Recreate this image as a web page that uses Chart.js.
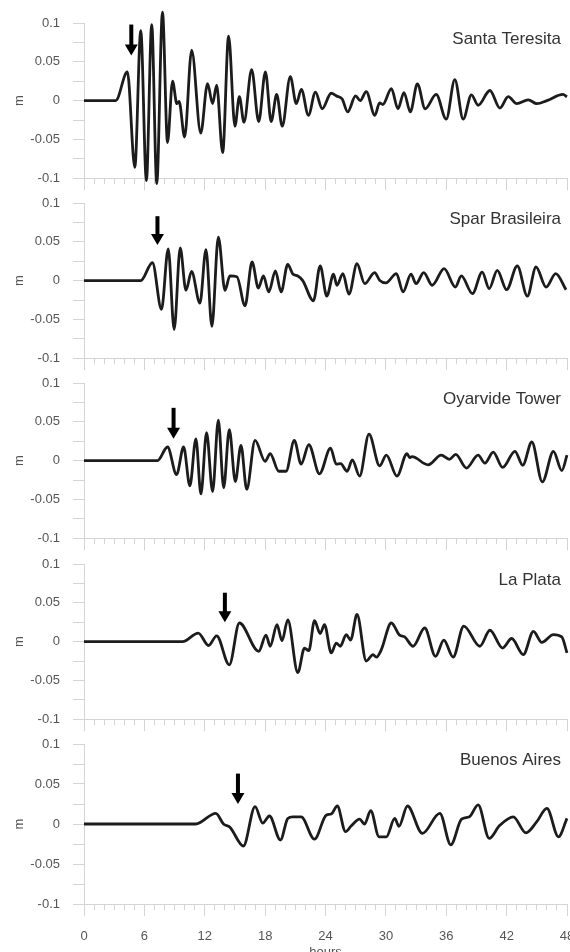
<!DOCTYPE html>
<html>
<head>
<meta charset="utf-8">
<script src="https://cdn.jsdelivr.net/npm/chart.js@4.4.0/dist/chart.umd.min.js"></script>
<style>
  html, body { margin: 0; padding: 0; background: #fff; overflow: hidden; }
  #wrap { position: relative; width: 570px; height: 952px; overflow: hidden; }
  #wrap canvas { position: absolute; left: 0; }
</style>
</head>
<body>
<div id="wrap"></div>
<script>
// station names, top to bottom
const stations = ["Santa Teresita", "Spar Brasileira", "Oyarvide Tower", "La Plata", "Buenos Aires"];

// sea level (m), hours since the event
const santaTeresitaHours = [0, 3.15, 4.31, 5.05, 5.64, 6.2, 6.73, 7.23, 7.8, 8.3, 8.8, 9.23, 9.45, 10.0, 10.7, 11.6, 12.28, 12.78, 13.18, 13.78, 14.37, 15.0, 15.44, 15.9, 16.66, 17.36, 18.03, 18.6, 19.15, 19.7, 20.5, 21.1, 21.6, 22.3, 23.0, 23.67, 24.56, 25.1, 25.66, 26.2, 26.99, 27.45, 28.05, 28.9, 29.38, 29.7, 30.55, 31.2, 31.8, 32.43, 33.13, 33.9, 35.0, 36.0, 36.85, 37.68, 38.5, 39.17, 40.34, 41.33, 42.16, 43.0, 44.15, 45.0, 46.0, 47.6, 48];
const santaTeresitaLevel = [0, 0, 0.037, -0.086, 0.09, -0.103, 0.098, -0.107, 0.114, -0.054, 0.025, -0.004, -0.001, -0.047, 0.065, -0.042, 0.022, -0.004, 0.02, -0.067, 0.083, -0.033, 0.005, -0.028, 0.04, -0.027, 0.037, -0.027, 0.008, -0.033, 0.031, -0.004, 0.0145, -0.019, 0.011, -0.0105, 0.0095, 0.006, 0.002, -0.0146, 0.006, 0, 0.0116, -0.019, -0.003, -0.005, 0.0154, -0.0105, 0.0104, -0.0146, 0.0216, -0.0105, 0.008, -0.024, 0.027, -0.024, 0.0075, -0.006, 0.013, -0.0096, 0.005, -0.004, 0.001, -0.004, 0, 0.008, 0.005];

const sparBrasileiraHours = [0, 5.64, 6.8, 7.7, 8.37, 8.96, 9.56, 10.13, 10.69, 11.52, 12.12, 12.71, 13.35, 14.01, 14.5, 15.2, 16.0, 16.7, 17.33, 17.83, 18.36, 19.02, 19.59, 20.25, 20.75, 21.25, 21.74, 22.8, 23.47, 24.13, 24.8, 25.13, 25.73, 26.33, 27.13, 27.9, 28.88, 29.4, 30.0, 31.05, 31.7, 32.5, 33.0, 33.76, 34.6, 35.79, 36.9, 37.5, 38.6, 39.57, 40.27, 41.07, 42.0, 43.06, 44.06, 44.92, 45.92, 46.88, 47.9];
const sparBrasileiraLevel = [0, 0, 0.023, -0.037, 0.041, -0.063, 0.042, -0.0125, 0.0117, -0.029, 0.04, -0.059, 0.056, -0.0125, 0.006, 0.005, -0.0325, 0.024, -0.0096, 0.006, -0.0146, 0.0125, -0.0146, 0.021, 0.0085, 0.006, 0, -0.026, 0.019, -0.02, 0.0083, -0.006, 0.009, -0.0175, 0.0217, -0.004, 0.0104, 0, -0.003, 0.009, -0.0146, 0.0083, -0.004, 0.0104, -0.006, 0.0154, -0.0083, 0.006, -0.0167, 0.011, -0.0104, 0.0133, -0.0117, 0.019, -0.02, 0.0175, -0.0083, 0.009, -0.0117];

const oyarvideHours = [0, 7.3, 8.3, 9.2, 9.9, 10.52, 11.12, 11.62, 12.18, 12.78, 13.35, 13.88, 14.44, 15.04, 15.6, 16.17, 17.0, 18.0, 18.5, 19.35, 20.08, 20.9, 21.58, 22.34, 23.4, 24.5, 25.07, 25.5, 26.15, 26.66, 27.39, 28.32, 29.38, 30.05, 31.1, 32.1, 32.35, 32.6, 34.2, 35.5, 36.3, 36.95, 38.0, 39.17, 39.84, 40.67, 41.6, 42.83, 43.6, 44.5, 45.55, 46.65, 47.48, 48];
const oyarvideLevel = [0, 0, 0.0175, -0.018, 0.0175, -0.0325, 0.028, -0.043, 0.036, -0.04, 0.052, -0.035, 0.04, -0.027, 0.0196, -0.037, 0.026, -0.001, 0.009, -0.0137, -0.0137, 0.026, -0.0046, 0.0204, -0.017, 0.016, -0.0046, -0.004, -0.0137, 0.001, -0.02, 0.034, -0.0067, 0.007, -0.02, 0.009, 0.004, 0.005, -0.0054, 0.007, 0.0017, 0.008, -0.0096, 0.007, -0.0033, 0.011, -0.0088, 0.012, -0.006, 0.024, -0.0275, 0.012, -0.013, 0.007];

const laPlataHours = [0, 9.8, 11.35, 12.38, 13.18, 14.44, 15.44, 17.36, 18.09, 18.5, 19.18, 19.68, 20.25, 21.25, 21.91, 22.34, 22.91, 23.47, 23.9, 24.57, 25.07, 25.47, 26.06, 26.5, 27.13, 28.05, 28.72, 29.05, 29.55, 30.54, 31.37, 31.87, 32.7, 33.86, 34.93, 35.76, 36.68, 37.74, 39.34, 40.34, 41.6, 42.5, 43.66, 44.66, 45.49, 46.65, 47.48, 48];
const laPlataLevel = [0, 0, 0.011, -0.005, 0.0075, -0.03, 0.024, -0.0125, 0.0083, -0.006, 0.0217, 0.001, 0.028, -0.04, -0.0083, -0.0117, 0.027, 0.0104, 0.0217, -0.0146, -0.002, -0.006, 0.009, 0.002, 0.035, -0.025, -0.0167, -0.02, -0.0104, 0.024, 0.0083, 0.006, -0.006, 0.0175, -0.019, 0.002, -0.02, 0.02, -0.006, 0.0146, -0.0083, 0.004, -0.0167, 0.0133, -0.001, 0.009, 0.006, -0.0146];

const buenosAiresHours = [0, 11.1, 13.1, 13.86, 14.5, 15.84, 17.0, 17.76, 18.43, 19.52, 20.25, 20.75, 21.58, 22.9, 24.07, 24.57, 25.17, 25.99, 26.55, 27.39, 27.88, 28.49, 29.32, 30.05, 30.88, 31.3, 32.14, 33.63, 35.36, 36.45, 37.52, 38.3, 39.17, 40.27, 41.3, 42.66, 43.92, 45.0, 46.0, 47.15, 48];
const buenosAiresLevel = [0, 0, 0.0133, 0, -0.004, -0.0275, 0.0217, 0.001, 0.01, -0.02, 0.007, 0.009, 0.009, -0.019, 0.011, 0.0125, 0.0225, -0.0096, -0.0025, 0.006, 0, 0.0167, -0.016, -0.016, 0.007, -0.003, 0.0225, -0.0117, 0.0133, -0.026, 0.006, 0.009, 0.024, -0.018, -0.002, 0.009, -0.011, 0.003, 0.0196, -0.016, 0.007];

// arrival arrows (hour, arrow top and tip in m)
const arrowHours = [4.7, 7.3, 8.9, 14.0, 15.3];
const arrowTop = [0.098, 0.083, 0.068, 0.063, 0.063];
const arrowTip = [0.058, 0.046, 0.028, 0.025, 0.025];

const seriesHours = [santaTeresitaHours, sparBrasileiraHours, oyarvideHours, laPlataHours, buenosAiresHours];
const seriesLevel = [santaTeresitaLevel, sparBrasileiraLevel, oyarvideLevel, laPlataLevel, buenosAiresLevel];

Chart.defaults.font.family = '"Liberation Sans", Arial, sans-serif';
Chart.defaults.color = "#555";

const axisGray = "#d4d4d4";

// draws the arrival arrow and the station name
const panelDecor = {
  id: "panelDecor",
  afterDatasetsDraw(chart, args, opts) {
    const { ctx, chartArea, scales } = chart;
    const x = scales.x.getPixelForValue(opts.hour);
    const y1 = scales.y.getPixelForValue(opts.top);
    const y2 = scales.y.getPixelForValue(opts.tip);
    ctx.save();
    ctx.strokeStyle = "#000";
    ctx.fillStyle = "#000";
    ctx.lineWidth = 4;
    ctx.beginPath();
    ctx.moveTo(x, y1);
    ctx.lineTo(x, y2 - 9);
    ctx.stroke();
    ctx.beginPath();
    ctx.moveTo(x - 6.5, y2 - 11);
    ctx.lineTo(x + 6.5, y2 - 11);
    ctx.lineTo(x, y2);
    ctx.closePath();
    ctx.fill();

    ctx.font = '17px "Liberation Sans", Arial, sans-serif';
    ctx.fillStyle = "#333";
    ctx.textAlign = "right";
    ctx.textBaseline = "middle";
    ctx.fillText(opts.name, chartArea.right - 6, chartArea.top + 16);
    ctx.restore();
  },
};

function makePanel(i) {
  const last = i === stations.length - 1;
  const plotTop = Math.round(23 + 180.2 * i);
  const padTop = 22;
  const bottomSpace = last ? 56 : 16;

  const canvas = document.createElement("canvas");
  canvas.width = 570;
  canvas.height = padTop + 160 + bottomSpace;
  canvas.style.top = plotTop - padTop + "px";
  document.getElementById("wrap").appendChild(canvas);

  const points = seriesHours[i].map((h, k) => ({ x: h, y: seriesLevel[i][k] }));

  const config = {
    type: "line",
    data: {
      datasets: [
        {
          label: stations[i],
          data: points,
          borderColor: "#1c1c1c",
          borderWidth: 2.8,
          pointRadius: 0,
          fill: false,
          cubicInterpolationMode: "monotone",
          clip: false,
        },
      ],
    },
    options: {
      responsive: false,
      animation: false,
      events: [],
      layout: { padding: { left: 0, right: 3, top: padTop, bottom: 0 } },
      plugins: {
        legend: { display: false },
        tooltip: { enabled: false },
        panelDecor: {
          name: stations[i],
          hour: arrowHours[i],
          top: arrowTop[i],
          tip: arrowTip[i],
        },
      },
      scales: {
        x: {
          type: "linear",
          position: "bottom",
          weight: 1,
          min: 0,
          max: 48,
          ticks: {
            stepSize: 6,
            display: last,
            maxRotation: 0,
            padding: 13,
            font: { size: 13 },
            color: "#555",
          },
          grid: { drawOnChartArea: false, color: axisGray, tickLength: 12 },
          border: { display: true, color: axisGray },
          title: {
            display: last,
            text: "hours",
            font: { size: 13 },
            color: "#555",
            padding: { top: 0, bottom: 0 },
          },
          afterFit(scale) {
            scale.height = bottomSpace;
            scale.paddingLeft = 0;
            scale.paddingRight = 0;
          },
        },
        xMinor: {
          type: "linear",
          position: "bottom",
          weight: 0,
          min: 0,
          max: 48,
          ticks: { stepSize: 1, display: false },
          grid: { drawOnChartArea: false, color: axisGray, tickLength: 6 },
          border: { display: false },
          afterFit(scale) {
            scale.height = 0;
            scale.paddingLeft = 0;
            scale.paddingRight = 0;
          },
        },
        y: {
          min: -0.1,
          max: 0.1,
          ticks: {
            stepSize: 0.025,
            padding: 13,
            font: { size: 13 },
            color: "#555",
            callback: (v) => {
              if (Math.abs(v * 20 - Math.round(v * 20)) > 1e-6) return "";
              return String(Math.round(v * 1000) / 1000);
            },
          },
          grid: { drawOnChartArea: false, color: axisGray, tickLength: 11 },
          border: { display: true, color: axisGray },
          title: {
            display: true,
            text: "m",
            font: { size: 13 },
            color: "#555",
            padding: { top: 12, bottom: 0 },
          },
          afterFit(scale) {
            scale.width = 84;
          },
        },
      },
    },
    plugins: [panelDecor],
  };

  return new Chart(canvas, config);
}

for (let i = 0; i < stations.length; i++) {
  makePanel(i);
}
</script>
</body>
</html>
